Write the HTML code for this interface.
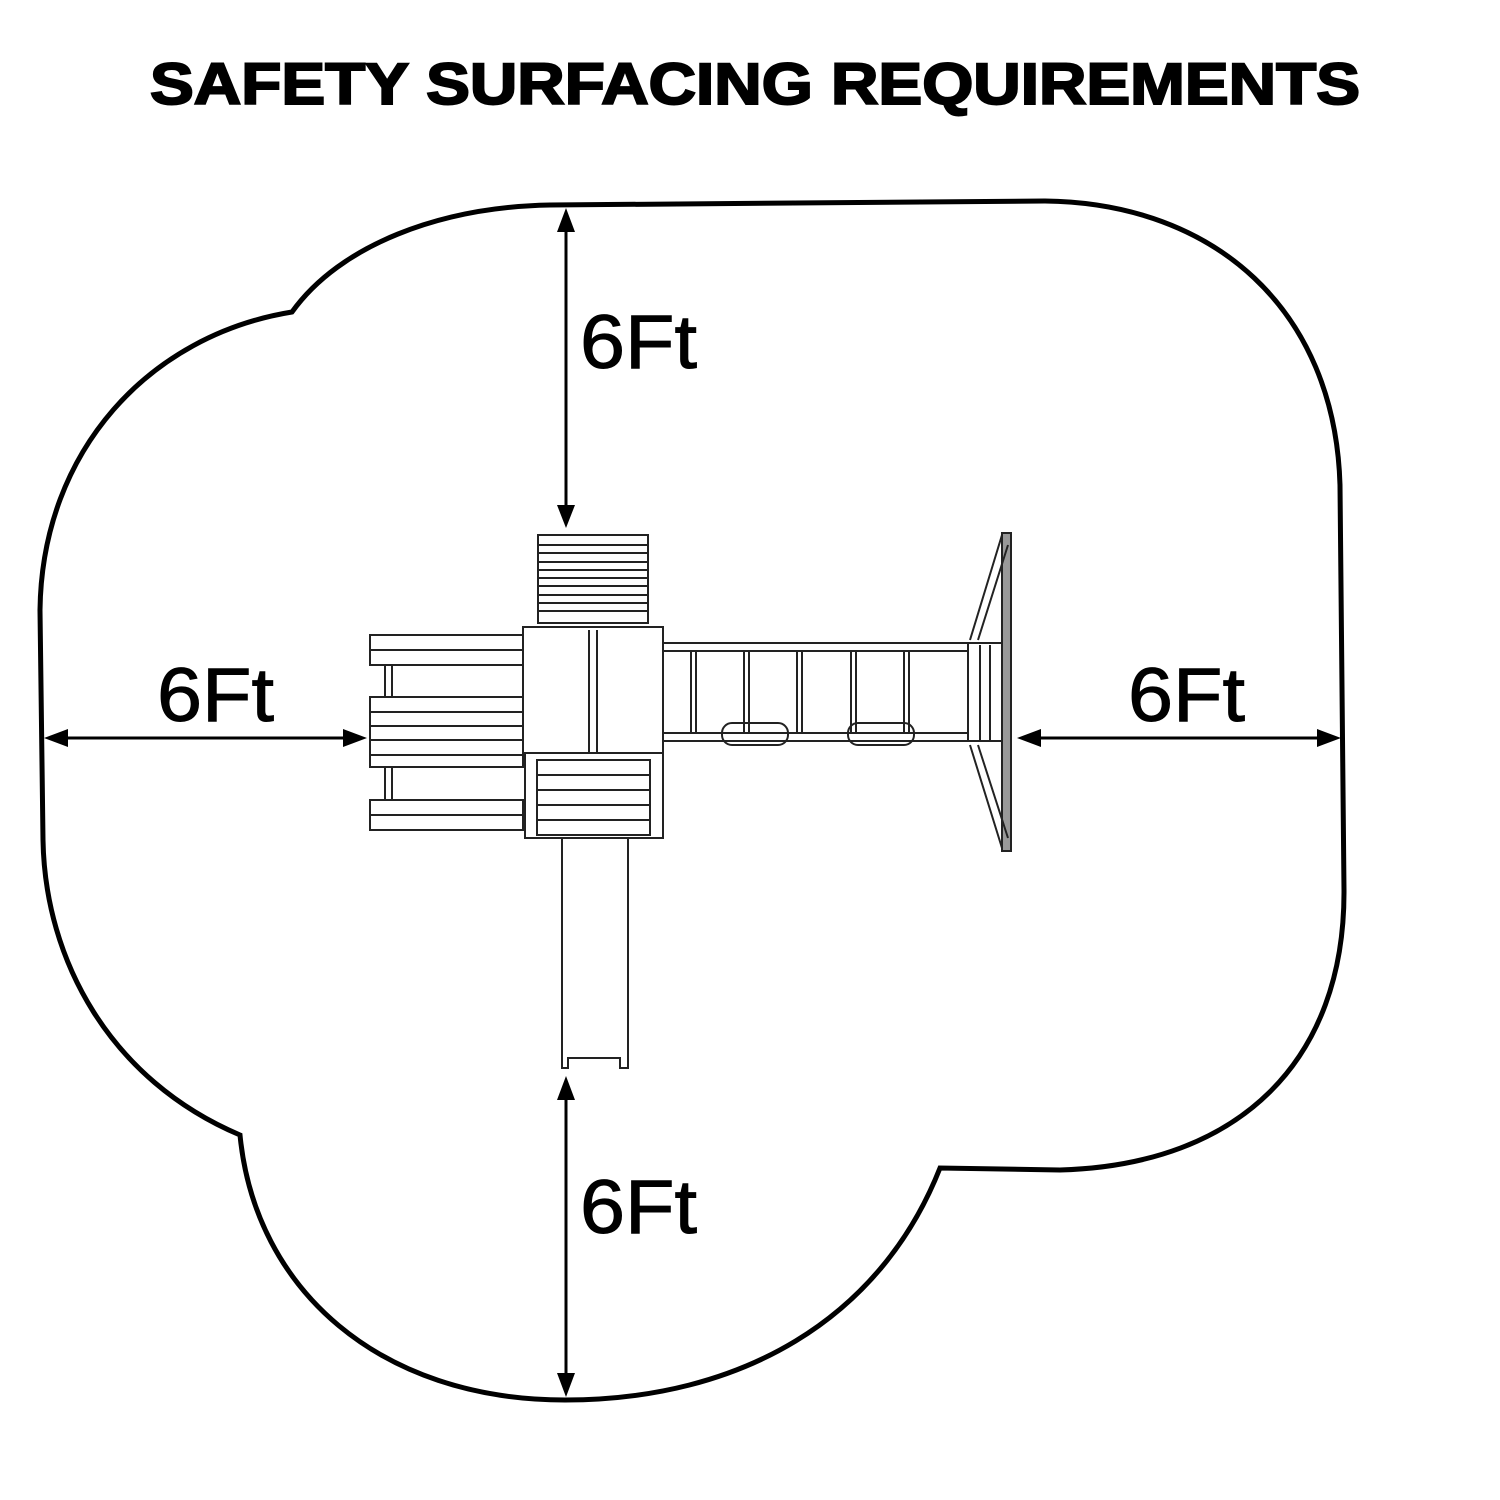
<!DOCTYPE html>
<html><head><meta charset="utf-8"><style>html,body{margin:0;padding:0;background:#fff}svg{display:block}</style></head>
<body>
<svg width="1500" height="1500" viewBox="0 0 1500 1500" xmlns="http://www.w3.org/2000/svg">
<rect width="1500" height="1500" fill="#fff"/>
<text x="150" y="104" font-family="Liberation Sans, sans-serif" font-weight="bold" font-size="58" textLength="1210" lengthAdjust="spacingAndGlyphs" stroke="#000" stroke-width="2" fill="#000">SAFETY SURFACING REQUIREMENTS</text>

<path d="M 292 312 C 340 245, 440 207, 550 205 L 1045 201 C 1215 203, 1335 310, 1340 485 L 1344 890 C 1345 1060, 1240 1165, 1060 1170 L 940 1168 C 880 1320, 740 1400, 565 1400 C 380 1400, 255 1290, 240 1135 C 110 1080, 45 960, 43 840 L 40 610 C 42 450, 150 335, 292 312 Z" fill="none" stroke="#000" stroke-width="5"/>

<g stroke="#000" stroke-width="3" fill="#000">
<line x1="566" y1="215" x2="566" y2="515"/>
<polygon points="566,208 557,232 575,232" stroke="none"/>
<polygon points="566,528 557,505 575,505" stroke="none"/>
<line x1="566" y1="1090" x2="566" y2="1390"/>
<polygon points="566,1076 557,1100 575,1100" stroke="none"/>
<polygon points="566,1397 557,1373 575,1373" stroke="none"/>
<line x1="55" y1="738" x2="355" y2="738"/>
<polygon points="44,738 68,729 68,747" stroke="none"/>
<polygon points="367,738 343,729 343,747" stroke="none"/>
<line x1="1030" y1="738" x2="1330" y2="738"/>
<polygon points="1017,738 1041,729 1041,747" stroke="none"/>
<polygon points="1341,738 1317,729 1317,747" stroke="none"/>
</g>
<g font-family="Liberation Sans, sans-serif" font-size="76" fill="#000" stroke="#000" stroke-width="1">
<text x="580" y="368" textLength="117" lengthAdjust="spacingAndGlyphs">6Ft</text>
<text x="157" y="721" textLength="117" lengthAdjust="spacingAndGlyphs">6Ft</text>
<text x="1128" y="721" textLength="117" lengthAdjust="spacingAndGlyphs">6Ft</text>
<text x="580" y="1233" textLength="117" lengthAdjust="spacingAndGlyphs">6Ft</text>
</g>

<g fill="none" stroke="#222" stroke-width="2">
<!-- top panel -->
<rect x="538" y="535" width="110" height="88"/>
<line x1="538" y1="545" x2="648" y2="545"/><line x1="538" y1="553" x2="648" y2="553"/>
<line x1="538" y1="562" x2="648" y2="562"/><line x1="538" y1="570" x2="648" y2="570"/>
<line x1="538" y1="578" x2="648" y2="578"/><line x1="538" y1="586" x2="648" y2="586"/>
<line x1="538" y1="595" x2="648" y2="595"/><line x1="538" y1="603" x2="648" y2="603"/>
<line x1="538" y1="611" x2="648" y2="611"/>
<!-- main deck -->
<rect x="523" y="627" width="140" height="126"/>
<line x1="589" y1="630" x2="589" y2="752"/><line x1="597" y1="630" x2="597" y2="752"/>
<!-- bottom deck -->
<rect x="525" y="753" width="138" height="85"/>
<rect x="537" y="760" width="113" height="75"/>
<line x1="537" y1="775" x2="650" y2="775"/><line x1="537" y1="790" x2="650" y2="790"/>
<line x1="537" y1="805" x2="650" y2="805"/><line x1="537" y1="820" x2="650" y2="820"/>
<!-- left section -->
<rect x="370" y="635" width="153" height="30"/><line x1="370" y1="650" x2="523" y2="650"/>
<rect x="370" y="697" width="153" height="70"/><line x1="370" y1="712" x2="523" y2="712"/><line x1="370" y1="726" x2="523" y2="726"/><line x1="370" y1="740" x2="523" y2="740"/><line x1="370" y1="755" x2="523" y2="755"/>
<rect x="370" y="800" width="153" height="30"/><line x1="370" y1="815" x2="523" y2="815"/>
<rect x="385" y="665" width="7" height="32"/><rect x="385" y="767" width="7" height="33"/>
<!-- slide -->
<path d="M 562 838 L 562 1068 L 568 1068 L 568 1058 L 620 1058 L 620 1068 L 628 1068 L 628 838"/>
<!-- monkey bars -->
<rect x="663" y="643" width="305" height="8"/>
<rect x="663" y="733" width="305" height="8"/>
<rect x="691" y="651" width="5" height="82"/><rect x="744" y="651" width="5" height="82"/>
<rect x="797" y="651" width="5" height="82"/><rect x="851" y="651" width="5" height="82"/>
<rect x="904" y="651" width="5" height="82"/>
<rect x="722" y="723" width="66" height="22" rx="10"/><rect x="848" y="723" width="66" height="22" rx="10"/>
<rect x="968" y="643" width="35" height="98"/>
<line x1="980" y1="645" x2="980" y2="740"/><line x1="990" y1="645" x2="990" y2="740"/>
<!-- swing end -->
<rect x="1002" y="533" width="9" height="318" fill="#999"/>
<path d="M 1002 535 L 970 640 M 1008 545 L 978 640"/>
<path d="M 1002 848 L 970 745 M 1008 838 L 978 745"/>
</g>
</svg>
</body></html>
